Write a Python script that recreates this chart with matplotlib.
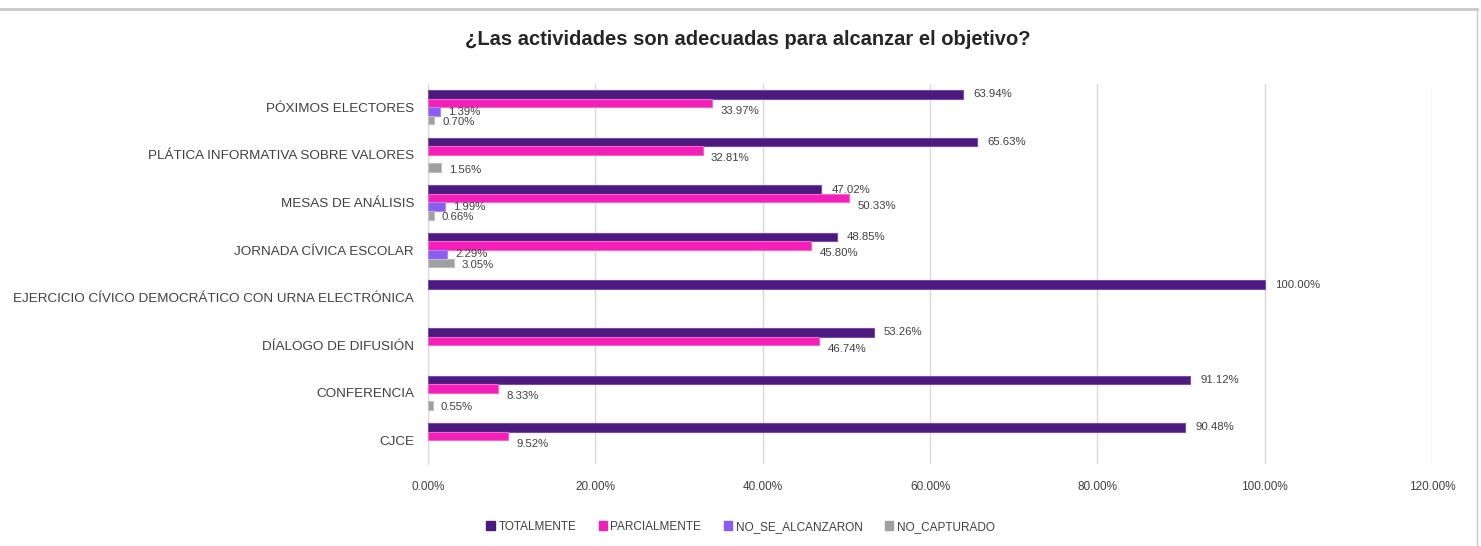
import matplotlib
matplotlib.use("Agg")
import matplotlib.pyplot as plt
from matplotlib.patches import Patch
import numpy as np

plt.rcParams['font.family'] = ['Liberation Sans', 'DejaVu Sans']

# Data (top to bottom as shown)
categories = ["PÓXIMOS ELECTORES", "PLÁTICA INFORMATIVA SOBRE VALORES", "MESAS DE ANÁLISIS",
              "JORNADA CÍVICA ESCOLAR", "EJERCICIO CÍVICO DEMOCRÁTICO CON URNA ELECTRÓNICA",
              "DÍALOGO DE DIFUSIÓN", "CONFERENCIA", "CJCE"]
series = ["TOTALMENTE", "PARCIALMENTE", "NO_SE_ALCANZARON", "NO_CAPTURADO"]
totalmente = [63.94, 65.63, 47.02, 48.85, 100.00, 53.26, 91.12, 90.48]
parcialmente = [33.97, 32.81, 50.33, 45.80, 0, 46.74, 8.33, 9.52]
no_se_alcanzaron = [1.39, 0, 1.99, 2.29, 0, 0, 0, 0]
no_capturado = [0.70, 1.56, 0.66, 3.05, 0, 0, 0.55, 0]
x_ticks = [0, 20, 40, 60, 80, 100, 120]

colors = ["#4a1a7e", "#f41fb8", "#8c5cf0", "#a0a0a0"]
edges = ["#7a4aa8", "#f566c9", "#a98af5", "#bdbdbd"]
values = [totalmente, parcialmente, no_se_alcanzaron, no_capturado]

fig = plt.figure(figsize=(14.81, 5.46), dpi=100)
ax = fig.add_axes([0.289, 0.150, 0.678, 0.697])

n = len(categories)
ypos = np.arange(n)[::-1]  # first category at top
h = 0.18
offsets = [-1.5 * h, -0.5 * h, 0.5 * h, 1.5 * h]

# label offsets (dx in %, dy in category units) per series
lab_dx = [1.2, 1.0, 1.0, 1.0]
lab_dy = [0.0, 0.16, 0.0, 0.04]

for s, (vals, c, e) in enumerate(zip(values, colors, edges)):
    yy = ypos - offsets[s]
    keep = [i for i, v in enumerate(vals) if v > 0]
    ax.barh(yy[keep], [vals[i] for i in keep], height=h, color=c, edgecolor=e,
            linewidth=0.8, zorder=3)
    for i in keep:
        ax.text(vals[i] + lab_dx[s], yy[i] - lab_dy[s], f"{vals[i]:.2f}%", va='center',
                ha='left', fontsize=8.2, color='#404040', zorder=4)

ax.set_xlim(0, 120)
ax.set_ylim(-0.5, n - 0.5)
ax.set_yticks(ypos)
ax.set_yticklabels(categories, fontsize=9.7, color='#404040')
ax.set_xticks(x_ticks)
ax.set_xticklabels([f"{t:.2f}%" for t in x_ticks], fontsize=8.5, color='#404040')
ax.tick_params(length=0, pad=12)
ax.tick_params(axis='y', pad=10)
ax.grid(axis='x', color='#d9d9d9', linewidth=1, zorder=0)
for sp in ['top', 'right', 'bottom']:
    ax.spines[sp].set_visible(False)
ax.spines['left'].set_color('#d9d9d9')

fig.suptitle("¿Las actividades son adecuadas para alcanzar el objetivo?", x=0.505, y=0.945,
             fontsize=14.5, fontweight='bold', color='#262626')

handles = [Patch(facecolor=c, edgecolor=c) for c in colors]
fig.legend(handles, series, loc='lower center', ncol=4, bbox_to_anchor=(0.5, 0.005),
           frameon=False, fontsize=8.5, handlelength=0.7, handleheight=0.7,
           columnspacing=1.9, handletextpad=0.3, labelcolor='#404040')

# thin frame lines of the sheet
fig.add_artist(plt.Line2D([0.0, 0.997], [0.983, 0.983], color='#c8c8c8', linewidth=2,
                          transform=fig.transFigure))
fig.add_artist(plt.Line2D([0.997, 0.997], [0.0, 0.983], color='#c8c8c8', linewidth=1,
                          transform=fig.transFigure))

fig.savefig("out.png", dpi=100)
